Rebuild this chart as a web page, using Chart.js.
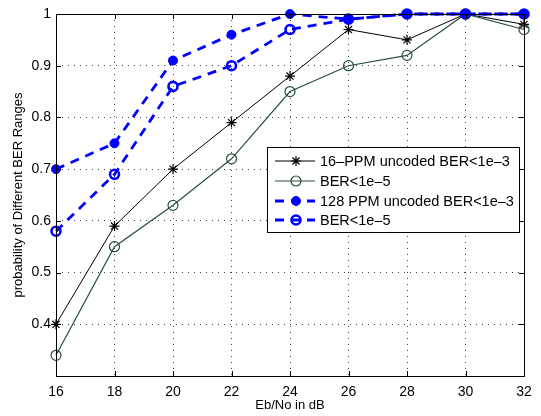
<!DOCTYPE html>
<html>
<head>
<meta charset="utf-8">
<script src="https://cdn.jsdelivr.net/npm/chart.js@4/dist/chart.umd.min.js"></script>
<style>
  html, body { margin: 0; padding: 0; background: #fff; }
  #wrap { width: 541px; height: 416px; }
</style>
</head>
<body>
<div id="wrap"><canvas id="c"></canvas></div>
<script>
const ebno = [16, 18, 20, 22, 24, 26, 28, 30, 32];
const ppm16Ber3 = [0.40, 0.59, 0.70, 0.79, 0.88, 0.97, 0.95, 1.0, 0.98];
const ppm16Ber5 = [0.34, 0.55, 0.63, 0.72, 0.85, 0.90, 0.92, 1.0, 0.97];
const ppm128Ber3 = [0.70, 0.75, 0.91, 0.96, 1.0, 0.99, 1.0, 1.0, 1.0];
const ppm128Ber5 = [0.58, 0.69, 0.86, 0.90, 0.97, 0.99, 1.0, 1.0, 1.0];
const yTicks = [0.4, 0.5, 0.6, 0.7, 0.8, 0.9, 1];

const FONT = "'Liberation Sans', Arial, sans-serif";
const green = "#2a4f3a";
const blue = "#0000ff";

function pts(ys) {
  return ys.map((y, i) => ({ x: ebno[i], y: y }));
}

// frame, inward ticks and the boxed legend inside the plot
const matlabBits = {
  id: "matlabBits",
  afterDraw(chart) {
    const ctx = chart.ctx;
    const a = chart.chartArea;
    const xs = chart.scales.x, ys = chart.scales.y;
    ctx.save();
    ctx.strokeStyle = "#000";
    ctx.lineWidth = 1;
    ctx.setLineDash([]);
    ctx.beginPath();
    ebno.forEach(v => {
      const px = Math.round(xs.getPixelForValue(v)) + 0.5;
      ctx.moveTo(px, a.bottom); ctx.lineTo(px, a.bottom - 5);
      ctx.moveTo(px, a.top); ctx.lineTo(px, a.top + 5);
    });
    yTicks.forEach(v => {
      const py = Math.round(ys.getPixelForValue(v)) + 0.5;
      ctx.moveTo(a.left, py); ctx.lineTo(a.left + 5, py);
      ctx.moveTo(a.right, py); ctx.lineTo(a.right - 5, py);
    });
    ctx.stroke();
    ctx.strokeRect(Math.round(a.left) + 0.5, Math.round(a.top) + 0.5,
      Math.round(a.right - a.left), Math.round(a.bottom - a.top));

    // legend
    const bx = 267, by = 147, bw = 252, bh = 85;
    ctx.fillStyle = "#fff";
    ctx.fillRect(bx, by, bw, bh);
    ctx.strokeRect(bx + 0.5, by + 0.5, bw, bh);
    const rows = [161, 181, 201, 220];
    chart.data.datasets.forEach((ds, i) => {
      const y = rows[i];
      ctx.save();
      ctx.strokeStyle = ds.borderColor;
      ctx.lineWidth = ds.borderWidth;
      ctx.setLineDash(ds.borderDash || []);
      ctx.beginPath();
      ctx.moveTo(275, y); ctx.lineTo(315, y);
      ctx.stroke();
      ctx.restore();
      ctx.fillStyle = ds.pointBackgroundColor;
      ctx.strokeStyle = ds.borderColor;
      ctx.lineWidth = ds.pointBorderWidth;
      ctx.setLineDash([]);
      ctx.beginPath();
      if (ds.pointStyle === "star") {
        const r = ds.pointRadius;
        for (let k = 0; k < 4; k++) {
          const ang = k * Math.PI / 4;
          ctx.moveTo(296 - Math.cos(ang) * r, y - Math.sin(ang) * r);
          ctx.lineTo(296 + Math.cos(ang) * r, y + Math.sin(ang) * r);
        }
        ctx.stroke();
      } else {
        ctx.arc(296, y, ds.pointRadius, 0, Math.PI * 2);
        ctx.fill();
        ctx.stroke();
      }
      ctx.fillStyle = "#000";
      ctx.font = "14.5px " + FONT;
      ctx.textBaseline = "middle";
      ctx.fillText(ds.label, 320, y + 1);
    });
    ctx.restore();
  }
};

new Chart(document.getElementById("c"), {
  type: "line",
  data: {
    datasets: [
      {
        label: "16–PPM uncoded BER<1e–3",
        data: pts(ppm16Ber3),
        borderColor: "#000",
        backgroundColor: "#000",
        pointBackgroundColor: "#000",
        borderWidth: 1,
        pointStyle: "star",
        pointRadius: 5,
        pointBorderWidth: 1.2,
        order: 4
      },
      {
        label: "BER<1e–5",
        data: pts(ppm16Ber5),
        borderColor: green,
        backgroundColor: green,
        pointBackgroundColor: "rgba(255,255,255,0)",
        borderWidth: 1.2,
        pointStyle: "circle",
        pointRadius: 5,
        pointBorderWidth: 1.2,
        order: 3
      },
      {
        label: "128 PPM uncoded BER<1e–3",
        data: pts(ppm128Ber3),
        borderColor: blue,
        backgroundColor: blue,
        pointBackgroundColor: blue,
        borderWidth: 2.8,
        borderDash: [9, 7],
        pointStyle: "circle",
        pointRadius: 4.5,
        pointBorderWidth: 1,
        order: 1
      },
      {
        label: "BER<1e–5",
        data: pts(ppm128Ber5),
        borderColor: blue,
        backgroundColor: blue,
        pointBackgroundColor: "rgba(255,255,255,0)",
        borderWidth: 2.8,
        borderDash: [9, 7],
        pointStyle: "circle",
        pointRadius: 4.5,
        pointBorderWidth: 2.6,
        order: 2
      }
    ]
  },
  options: {
    responsive: true,
    maintainAspectRatio: false,
    animation: false,
    layout: { padding: { top: 14, right: 17, left: 11, bottom: 0 } },
    plugins: {
      legend: { display: false },
      tooltip: { enabled: false }
    },
    elements: { line: { tension: 0, fill: false }, point: { hoverRadius: 5 } },
    datasets: { line: { clip: false } },
    scales: {
      x: {
        type: "linear",
        min: 16,
        max: 32,
        afterFit(s) { s.height = 40; },
        ticks: {
          stepSize: 2,
          color: "#000",
          padding: 8,
          font: { family: FONT, size: 14 },
          maxRotation: 0
        },
        grid: { color: "#444", lineWidth: 1, drawTicks: false },
        border: { display: false, dash: [1, 5] },
        title: {
          display: true,
          text: "Eb/No in dB",
          color: "#000",
          padding: { top: 0, bottom: 3 },
          font: { family: FONT, size: 13 }
        }
      },
      y: {
        min: 0.3,
        max: 1,
        afterFit(s) { s.width = 45; },
        afterBuildTicks(s) { s.ticks = [0.3].concat(yTicks).map(v => ({ value: v })); },
        ticks: {
          color: "#000",
          padding: 5,
          font: { family: FONT, size: 14 },
          callback: v => (v < 0.35 ? "" : v > 0.99 ? "1" : v.toFixed(1))
        },
        grid: { color: "#444", lineWidth: 1, drawTicks: false },
        border: { display: false, dash: [1, 5] },
        title: {
          display: true,
          text: "probability of Different BER Ranges",
          color: "#000",
          padding: { top: 0, bottom: 2 },
          font: { family: FONT, size: 13 }
        }
      }
    }
  },
  plugins: [matlabBits]
});
</script>
</body>
</html>
